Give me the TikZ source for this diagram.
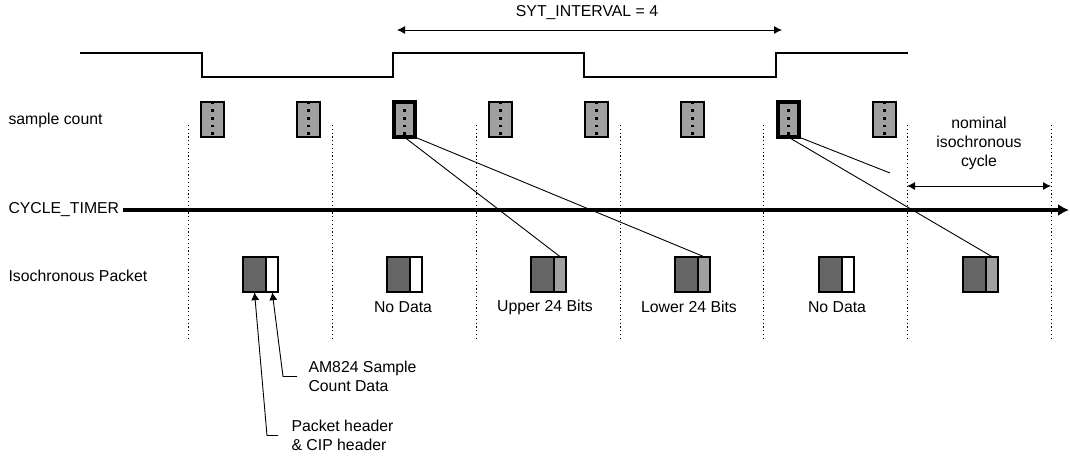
\documentclass[tikz,border=0pt]{standalone}
\usepackage{fontspec}
\setmainfont{Liberation Sans}
\usepackage{tikz}
\usetikzlibrary{arrows.meta}
\usetikzlibrary{positioning}
\definecolor{hdrgray}{HTML}{666666}
\definecolor{datgray}{HTML}{A0A0A0}

\begin{document}
\begin{tikzpicture}[x=1pt,y=-1pt,node distance=0pt,>={Latex[length=8pt,width=8pt]},
  font=\fontsize{15.8}{19}\selectfont,
  smp/.style={draw,fill=datgray,line width=1.6pt,minimum width=23.4pt,minimum height=35.4pt,inner sep=0pt,outer sep=0pt,
    path picture={\draw[line width=2.2pt,dash pattern=on 2.6pt off 5pt] (path picture bounding box.north) -- (path picture bounding box.south);}},
  syt/.style={smp,line width=3.6pt,minimum width=21.4pt,minimum height=35.4pt},
  hdr/.style={draw,fill=hdrgray,line width=1.6pt,minimum width=23.5pt,minimum height=35.4pt,inner sep=0pt,outer sep=0pt},
  dat/.style={hdr,fill=datgray,minimum width=12pt},
  nodat/.style={dat,fill=white},
  grid/.style={line width=0.9pt,dash pattern=on 1.2pt off 2.6pt}]
  \useasboundingbox (0,0) rectangle (1070,456);

  \draw[line width=1.2pt] (80,53) -- (202,53) -- (202,77) -- (393,77) -- (393,53)
    -- (584,53) -- (584,77) -- (776,77) -- (776,53) -- (908,53);
  \node (sytlbl) at (587,13) {SYT\_INTERVAL = 4};
  \coordinate (sa) at (397,30);
  \coordinate (sb) at (782,30);
  \draw[<->, line width=0.9pt] (sa) -- (sb);

  \draw[grid] (188,125) -- (188,340);
  \draw[grid] (332,125) -- (332,340);
  \draw[grid] (476,125) -- (476,340);
  \draw[grid] (620,125) -- (620,340);
  \draw[grid] (763,125) -- (763,340);
  \draw[grid] (907,125) -- (907,340);
  \draw[grid] (1051,125) -- (1051,340);

  \node[anchor=west] (sc) at (5,120) {sample count};
  \node[anchor=west] (ct) at (5,210) {CYCLE\_TIMER};
  \node[anchor=west] (ip) at (5,276) {Isochronous Packet};

  \node[smp] (s1) at (212.5,119.5) {};
  \node[smp] (s2) at (308.5,119.5) {};
  \node[syt] (s3) at (404.5,119.5) {};
  \node[smp] (s4) at (500.5,119.5) {};
  \node[smp] (s5) at (596.5,119.5) {};
  \node[smp] (s6) at (692.5,119.5) {};
  \node[syt] (s7) at (788.5,119.5) {};
  \node[smp] (s8) at (884.5,119.5) {};

  \coordinate (tend) at (1069,210);
  \draw[-{Latex[length=11pt,width=12pt]}, line width=4pt] (ct.east) -- (tend);

  \node[hdr] (p1h) at (254.5,274.5) {};
  \node[nodat, right=of p1h] (p1d) {};
  \node[hdr] (p2h) at (398.5,274.5) {};
  \node[nodat, right=of p2h] (p2d) {};
  \node[hdr] (p3h) at (542.5,274.5) {};
  \node[dat, right=of p3h] (p3d) {};
  \node[hdr] (p4h) at (686.5,274.5) {};
  \node[dat, right=of p4h] (p4d) {};
  \node[hdr] (p5h) at (830.5,274.5) {};
  \node[nodat, right=of p5h] (p5d) {};
  \node[hdr] (p6h) at (974.5,274.5) {};
  \node[dat, right=of p6h] (p6d) {};

  \node (l2) at (403,307) {No Data};
  \node (l3) at (545,307) {Upper 24 Bits};
  \node (l4) at (689,307) {Lower 24 Bits};
  \node (l5) at (837,307) {No Data};

  \draw[line width=0.9pt] (s3.south) -- (p3d.north);
  \draw[line width=0.9pt] (s3.south east) -- (p4d.north);
  \coordinate (free) at (890,173);
  \draw[line width=0.9pt] (s7.south east) -- (free);
  \draw[line width=0.9pt] (s7.south) -- (p6d.north);

  \node[align=center] (nom) at (979,143) {nominal\\isochronous\\cycle};
  \coordinate (nc1) at (907,186);
  \coordinate (nc2) at (1051,186);
  \draw[<->, line width=0.9pt] (nc1) -- (nc2);

  \node[anchor=west, align=left] (amlbl) at (305,376.5) {AM824 Sample\\Count Data};
  \node[anchor=west, align=left] (hdrlbl) at (288,435.5) {Packet header\\\& CIP header};
  \draw[->, line width=0.9pt] ([xshift=-8pt]amlbl.west) -- ++(-14,0) -- (p1d.south);
  \draw[->, line width=0.9pt] ([xshift=-10pt]hdrlbl.west) -- ++(-11,0) -- (p1h.south);
\end{tikzpicture}
\end{document}
